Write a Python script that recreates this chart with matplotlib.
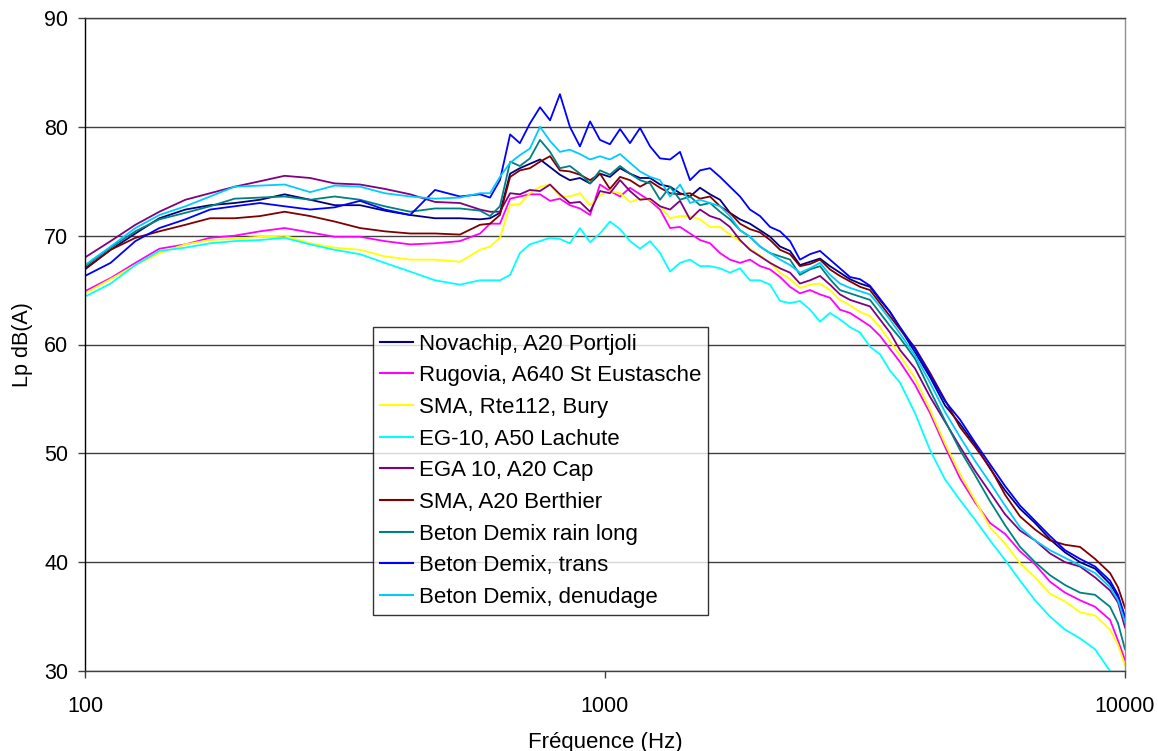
import matplotlib
matplotlib.use('Agg')
import matplotlib.pyplot as plt
from matplotlib.ticker import FixedLocator, NullLocator, FixedFormatter

plt.rcParams['font.family'] = ['Liberation Sans', 'DejaVu Sans']

freq_hz = [100, 112, 125, 139, 156, 174, 194, 217, 242, 271, 302, 338, 377, 422, 471, 526, 575,
           601, 628, 657, 686, 717, 750, 784, 819, 856, 895,
           936, 978, 1022, 1069, 1117, 1168, 1221, 1276, 1334, 1394,
           1457, 1523, 1592, 1664, 1739, 1818, 1900, 1987, 2077, 2171,
           2269, 2371, 2479, 2591, 2708, 2831, 2959, 3093, 3233, 3379,
           3532, 3692,
           3946, 4217, 4507, 4817, 5147, 5501, 5879, 6283, 6714, 7175, 7668, 8195, 8758, 9359, 9694, 10000]

novachip = [66.9, 68.7, 70.2, 71.6, 72.4, 72.8, 73.0, 73.3, 73.8, 73.3, 72.8, 72.8, 72.3, 71.9, 71.6, 71.6, 71.5,
            71.6, 72.1, 75.7, 76.2, 76.6, 77.0, 76.3, 75.6, 75.1, 75.3,
            74.8, 75.7, 75.4, 76.2, 75.7, 75.3, 75.3, 74.7, 74.5, 73.9,
            73.6, 74.4, 73.8, 73.3, 72.1, 71.5, 71.1, 70.5, 69.9, 69.0,
            68.6, 67.3, 67.6, 67.9, 67.2, 66.6, 66.0, 65.6, 65.3, 64.1,
            63.0, 61.5,
            59.3, 57.0, 54.4, 52.7, 50.8, 48.6, 46.6, 44.9, 43.6, 42.1, 40.9, 40.0, 39.4, 38.0, 36.8, 34.8]

rugovia = [64.9, 66.1, 67.5, 68.8, 69.2, 69.8, 70.0, 70.4, 70.7, 70.3, 69.9, 69.9, 69.5, 69.2, 69.3, 69.5, 70.2,
           71.1, 71.1, 73.4, 73.6, 73.8, 73.8, 73.2, 73.4, 72.8, 72.5,
           71.9, 74.7, 74.1, 73.6, 74.4, 73.8, 73.2, 72.4, 70.7, 70.8,
           70.2, 69.6, 69.3, 68.4, 67.8, 67.5, 67.8, 67.2, 66.9, 66.2,
           65.3, 64.7, 65.0, 64.6, 64.3, 63.2, 62.9, 62.3, 61.7, 60.8,
           59.6, 58.4,
           56.3, 53.7, 50.6, 47.7, 45.5, 43.6, 42.6, 41.0, 39.8, 38.2, 37.2, 36.5, 35.9, 34.7, 32.8, 31.0]

sma_bury = [64.7, 66.0, 67.3, 68.4, 69.2, 69.6, 69.7, 69.9, 70.0, 69.3, 68.9, 68.7, 68.1, 67.8, 67.8, 67.6, 68.7,
            69.0, 69.8, 72.8, 72.9, 73.9, 74.5, 74.7, 73.6, 73.6, 73.9,
            72.8, 73.7, 74.1, 73.9, 73.1, 73.4, 73.3, 72.7, 71.6, 71.8,
            71.8, 71.5, 70.8, 70.8, 70.1, 69.5, 68.8, 68.2, 67.5, 66.6,
            66.0, 65.2, 65.5, 65.6, 65.0, 64.1, 63.6, 63.0, 62.6, 61.6,
            60.3, 59.0,
            56.9, 54.0, 50.9, 48.1, 45.7, 43.2, 41.7, 39.9, 38.6, 37.1, 36.4, 35.4, 35.1, 33.8, 32.4, 30.5]

eg10 = [64.4, 65.6, 67.3, 68.6, 68.9, 69.3, 69.5, 69.6, 69.8, 69.2, 68.7, 68.3, 67.5, 66.7, 65.9, 65.5, 65.9,
        65.9, 65.9, 66.4, 68.4, 69.2, 69.5, 69.8, 69.7, 69.3, 70.7,
        69.4, 70.2, 71.3, 70.6, 69.5, 68.8, 69.5, 68.4, 66.7, 67.5,
        67.8, 67.2, 67.2, 67.0, 66.6, 67.0, 65.9, 65.9, 65.5, 64.0,
        63.8, 64.0, 63.2, 62.1, 62.9, 62.3, 61.6, 61.1, 59.8, 59.1,
        57.6, 56.5,
        53.7, 50.3, 47.6, 45.7, 43.9, 42.0, 40.2, 38.3, 36.5, 35.0, 33.8, 33.0, 32.0, 30.0, 28.5, 27.5]

ega10 = [68.0, 69.5, 71.0, 72.2, 73.3, 73.9, 74.5, 75.0, 75.5, 75.3, 74.8, 74.7, 74.3, 73.8, 73.1, 73.0, 72.4,
         72.2, 72.2, 73.9, 73.8, 74.2, 74.1, 74.7, 73.8, 73.0, 73.1,
         72.2, 74.1, 73.9, 75.1, 74.1, 73.3, 73.4, 72.7, 72.4, 73.2,
         71.5, 72.4, 71.8, 71.5, 70.8, 69.6, 68.7, 68.1, 67.5, 67.0,
         66.6, 65.6, 65.9, 66.3, 65.5, 64.6, 64.1, 63.8, 63.5, 62.3,
         61.1, 59.5,
         57.8, 55.2, 52.9, 50.6, 48.4, 46.4, 44.4, 42.9, 42.0, 40.8, 40.0, 39.6, 38.6, 37.4, 36.3, 34.0]

sma_berthier = [67.0, 68.7, 69.8, 70.4, 71.0, 71.6, 71.6, 71.8, 72.2, 71.8, 71.3, 70.7, 70.4, 70.2, 70.2, 70.1, 71.0,
                71.1, 71.9, 75.4, 76.0, 76.2, 76.8, 77.3, 76.0, 75.9, 75.6,
                75.1, 75.7, 74.3, 75.4, 75.1, 74.5, 75.0, 74.4, 73.9, 73.8,
                73.9, 73.4, 73.6, 72.7, 72.1, 71.1, 70.6, 70.3, 69.6, 68.7,
                68.3, 67.2, 67.4, 67.8, 66.9, 66.3, 65.8, 65.3, 65.0, 63.8,
                62.6, 61.4,
                59.7, 57.4, 54.9, 52.4, 50.6, 48.7, 46.2, 44.2, 43.0, 42.0, 41.6, 41.4, 40.3, 39.0, 37.7, 35.8]

rain_long = [67.2, 68.9, 70.4, 71.5, 72.1, 72.7, 73.4, 73.5, 73.6, 73.3, 73.6, 73.3, 72.7, 72.2, 72.5, 72.5, 72.3,
             71.8, 72.7, 76.8, 76.4, 77.1, 78.8, 77.7, 76.2, 76.4, 75.7,
             74.8, 76.0, 75.6, 76.4, 75.7, 75.1, 74.8, 73.3, 74.5, 73.3,
             73.6, 72.8, 73.0, 72.2, 71.5, 70.5, 69.9, 69.0, 68.4, 68.1,
             67.8, 66.4, 66.9, 67.2, 66.0, 65.0, 64.7, 64.4, 64.1, 62.9,
             61.7, 60.6,
             58.7, 55.8, 53.0, 50.3, 48.0, 45.6, 43.4, 41.4, 40.0, 38.8, 37.9, 37.2, 37.0, 35.9, 34.4, 32.0]

trans = [66.3, 67.5, 69.5, 70.7, 71.5, 72.4, 72.7, 73.0, 72.7, 72.4, 72.6, 73.2, 72.4, 71.9, 74.2, 73.6, 73.8,
         73.5, 75.1, 79.3, 78.5, 80.3, 81.8, 80.6, 83.0, 80.0, 78.2,
         80.5, 78.8, 78.4, 79.8, 78.5, 79.9, 78.2, 77.1, 77.0, 77.7,
         75.1, 76.0, 76.2, 75.4, 74.5, 73.6, 72.4, 71.8, 70.8, 70.4,
         69.5, 67.8, 68.3, 68.6, 67.8, 67.0, 66.2, 66.0, 65.4, 64.2,
         63.0, 61.6,
         59.6, 57.2, 54.8, 53.1, 51.0, 49.0, 47.0, 45.2, 43.8, 42.4, 41.1, 40.3, 39.6, 38.3, 37.0, 35.0]

denudage = [67.3, 69.0, 70.7, 71.9, 72.7, 73.6, 74.5, 74.6, 74.7, 74.0, 74.6, 74.5, 73.9, 73.6, 73.4, 73.5, 73.9,
            73.9, 75.4, 76.7, 77.4, 78.0, 80.0, 78.7, 77.7, 77.9, 77.5,
            77.0, 77.3, 77.0, 77.5, 76.7, 75.9, 75.4, 75.1, 73.6, 74.7,
            73.0, 73.3, 73.0, 72.7, 71.8, 70.5, 69.9, 69.0, 68.4, 67.8,
            67.3, 66.6, 67.0, 67.5, 66.4, 65.6, 65.2, 64.9, 64.6, 63.5,
            62.3, 61.0,
            59.0, 56.5, 53.8, 51.5, 49.3, 47.3, 45.2, 43.2, 42.0, 41.1, 40.4, 39.7, 39.0, 37.7, 36.5, 34.5]

series = [
    ('Novachip, A20 Portjoli', novachip, '#000080'),
    ('Rugovia, A640 St Eustasche', rugovia, '#FF00FF'),
    ('SMA, Rte112, Bury', sma_bury, '#FFFF00'),
    ('EG-10, A50 Lachute', eg10, '#00FFFF'),
    ('EGA 10, A20 Cap', ega10, '#800080'),
    ('SMA, A20 Berthier', sma_berthier, '#800000'),
    ('Beton Demix rain long', rain_long, '#008080'),
    ('Beton Demix, trans', trans, '#0000FF'),
    ('Beton Demix, denudage', denudage, '#00CCFF'),
]

fig = plt.figure(figsize=(11.58, 7.51), dpi=100)
ax = fig.add_axes([85 / 1158, 1 - 671 / 751, 1040 / 1158, 653 / 751])

for label, vals, col in series:
    ax.plot(freq_hz, vals, color=col, lw=1.3, label=label)

ax.set_xscale('log')
ax.set_xlim(100, 10000)
ax.set_ylim(30, 90)
ax.xaxis.set_major_locator(FixedLocator([100, 1000, 10000]))
ax.xaxis.set_major_formatter(FixedFormatter(['100', '1000', '10000']))
ax.xaxis.set_minor_locator(NullLocator())
ax.set_yticks(range(30, 91, 10))

ax.yaxis.grid(True, color='#404040', lw=1)
ax.set_axisbelow(True)
ax.tick_params(axis='both', labelsize=15.5, direction='out', length=5, width=1, color='#404040')
ax.tick_params(axis='y', pad=7)
ax.tick_params(axis='x', pad=13)

ax.spines['left'].set_color('black')
ax.spines['bottom'].set_color('#404040')
ax.spines['right'].set_color('#909090')
ax.spines['top'].set_color('#404040')
for s in ax.spines.values():
    s.set_linewidth(1)

ax.set_xlabel('Fréquence (Hz)', fontsize=16, labelpad=11)
ax.set_ylabel('Lp dB(A)', fontsize=15.5)
ax.yaxis.set_label_coords(-0.05, 0.5)

leg = ax.legend(loc='upper left', bbox_to_anchor=(0.277, 0.527), borderaxespad=0,
                fontsize=16, frameon=True, fancybox=False, handlelength=1.5,
                labelspacing=0.48, borderpad=0.3, handletextpad=0.27)
leg.get_frame().set_edgecolor('black')
leg.get_frame().set_linewidth(1)
for h in leg.get_lines():
    h.set_linewidth(1.5)

fig.savefig('out.png', dpi=100)
